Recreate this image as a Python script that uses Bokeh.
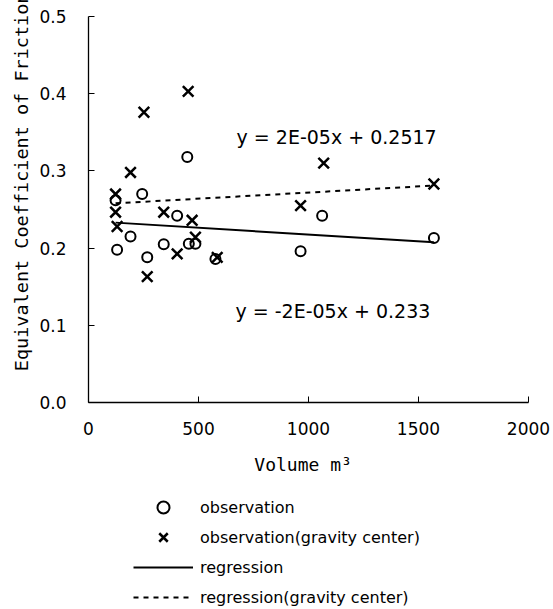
from bokeh.plotting import figure
from bokeh.layouts import column
from bokeh.models import Range1d, FixedTicker, PrintfTickFormatter, Legend, LegendItem, Label, Title
from bokeh.embed import file_html
from bokeh.resources import INLINE

# ---- data ----
obs_x = [449, 244, 123, 403, 191, 130, 267, 342, 456, 486, 577, 1062, 964, 1570]
obs_y = [0.318, 0.270, 0.262, 0.242, 0.215, 0.198, 0.188, 0.205, 0.2056, 0.2056, 0.186, 0.242, 0.196, 0.213]

grav_x = [191, 123, 123, 130, 342, 471, 486, 403, 585, 267, 453, 252, 964, 1069, 1570]
grav_y = [0.298, 0.270, 0.2465, 0.228, 0.2465, 0.236, 0.214, 0.1926, 0.188, 0.163, 0.403, 0.376, 0.255, 0.310, 0.283]

reg_x = [123, 1570]
reg_y = [0.233, 0.2075]
grav_reg_y = [0.258, 0.281]

x_ticks = [0, 500, 1000, 1500, 2000]
y_ticks = [0.0, 0.1, 0.2, 0.3, 0.4, 0.5]

eq_grav = "y = 2E-05x + 0.2517"
eq_obs = "y = -2E-05x + 0.233"

y_title = "Equivalent Coefficient of Friction"
x_title = "Volume  m³"

legend_labels = ["observation", "observation(gravity center)", "regression",
                 "regression(gravity center)"]

SANS = "DejaVu Sans"
MONO = "DejaVu Sans Mono"

H1 = 487
p = figure(width=553, height=H1, output_backend="svg", toolbar_location=None,
           x_range=Range1d(0, 2000), y_range=Range1d(0, 0.5),
           min_border_left=88, min_border_right=25, min_border_top=16, min_border_bottom=H1 - 402)

p.grid.visible = False
p.outline_line_color = None
p.background_fill_color = "white"
p.border_fill_color = "white"

for ax in (p.xaxis[0], p.yaxis[0]):
    ax.axis_line_color = "black"
    ax.axis_line_width = 1.3
    ax.major_tick_line_color = "black"
    ax.major_tick_in = 6
    ax.major_tick_out = 0
    ax.minor_tick_line_color = None
    ax.major_label_text_font = SANS
    ax.major_label_text_font_size = "17px"
    ax.major_label_text_color = "black"
    ax.axis_label_text_font = MONO
    ax.axis_label_text_font_size = "18px"
    ax.axis_label_text_font_style = "normal"
    ax.axis_label_text_color = "black"

p.xaxis.ticker = FixedTicker(ticks=x_ticks)
p.yaxis.ticker = FixedTicker(ticks=y_ticks)
p.yaxis.formatter = PrintfTickFormatter(format="%.1f")
p.xaxis.major_label_standoff = 19
p.yaxis.major_label_standoff = 22
p.xaxis.axis_label = x_title
p.xaxis.axis_label_standoff = 16

# y title: a side title anchored near the top, so it runs off the top edge like the original
p.add_layout(Title(text=y_title, align="right", offset=-24, standoff=10,
                   text_font=MONO, text_font_size="18.5px", text_font_style="normal",
                   text_color="black"), "left")

obs_style = dict(marker="circle", size=10, fill_color=None, line_color="black", line_width=2)
grav_style = dict(marker="x", size=15, line_color="black", line_width=2.5)
reg_style = dict(line_color="black", line_width=2)
greg_style = dict(line_color="black", line_width=2, line_dash="5 5")

p.scatter(obs_x, obs_y, **obs_style)
p.scatter(grav_x, grav_y, **grav_style)
p.line(reg_x, reg_y, **reg_style)
p.line(reg_x, grav_reg_y, **greg_style)

p.add_layout(Label(x=673, y=0.344, text=eq_grav, text_font=SANS, text_font_size="19px",
                   text_baseline="middle", text_color="black"))
p.add_layout(Label(x=668, y=0.118, text=eq_obs, text_font=SANS, text_font_size="19px",
                   text_baseline="middle", text_color="black"))

# ---- legend panel below the chart ----
H2 = 609 - H1
q = figure(width=553, height=H2, output_backend="svg", toolbar_location=None,
           x_axis_type=None, y_axis_type=None, x_range=Range1d(0, 1), y_range=Range1d(0, 1),
           min_border_left=0, min_border_right=0, min_border_top=0, min_border_bottom=0)
q.grid.visible = False
q.outline_line_color = None
q.border_fill_color = "white"

# off-range stand-ins so that the legend can draw its samples
l_obs = q.scatter([-5], [-5], **obs_style)
l_grav = q.scatter([-5], [-5], **grav_style)
l_reg = q.line([-6, -5], [-5, -5], **reg_style)
l_greg = q.line([-6, -5], [-5, -5], **greg_style)

legend = Legend(items=[
    LegendItem(label=legend_labels[0], renderers=[l_obs]),
    LegendItem(label=legend_labels[1], renderers=[l_grav]),
    LegendItem(label=legend_labels[2], renderers=[l_reg]),
    LegendItem(label=legend_labels[3], renderers=[l_greg]),
], location=(45, -3), orientation="vertical",
    glyph_width=60, glyph_height=30, label_height=30, spacing=0, padding=0, margin=0,
    label_standoff=7, border_line_color=None, background_fill_alpha=0,
    label_text_font=SANS, label_text_font_size="16px", label_text_color="black",
    label_text_baseline="middle")
q.add_layout(legend, "center")

layout = column(p, q, spacing=0)
open("out.html", "w").write(file_html(layout, INLINE))
